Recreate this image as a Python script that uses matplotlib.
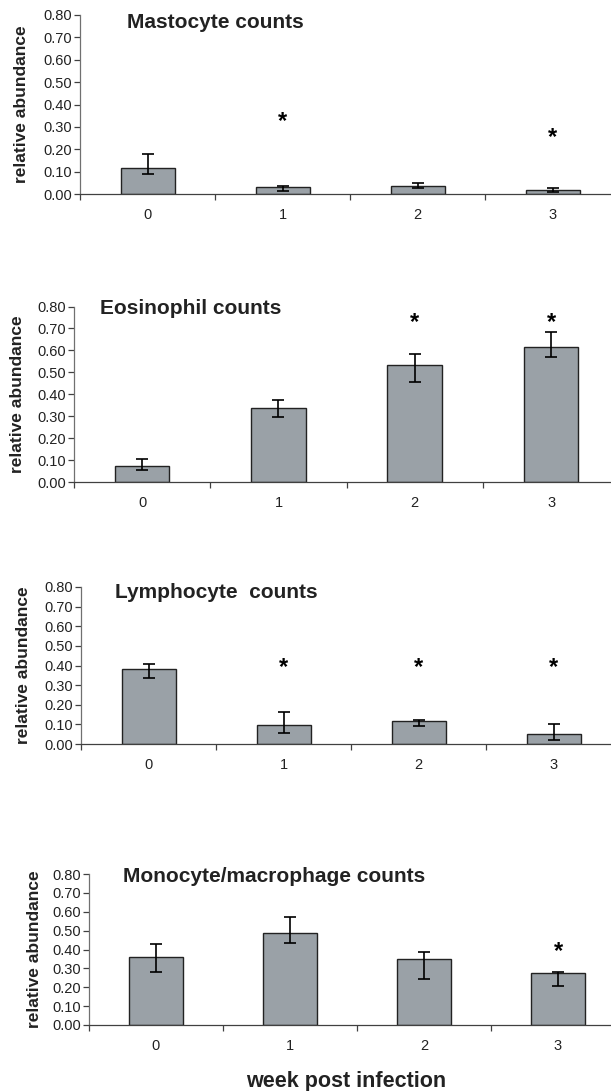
import numpy as np
import matplotlib
matplotlib.use("Agg")
import matplotlib.pyplot as plt

plt.rcParams['font.family'] = ['Liberation Sans', 'DejaVu Sans']

# ---- data ----
weeks = ['0', '1', '2', '3']

masto_mean = [0.115, 0.031, 0.037, 0.019]
masto_lo = [0.091, 0.015, 0.025, 0.009]
masto_hi = [0.181, 0.037, 0.049, 0.025]
masto_star = {1: 0.358, 3: 0.284}

eos_mean = [0.075, 0.336, 0.535, 0.616]
eos_lo = [0.055, 0.295, 0.454, 0.571]
eos_hi = [0.105, 0.376, 0.585, 0.685]
eos_star = {2: 0.76, 3: 0.76}

lymph_mean = [0.383, 0.097, 0.116, 0.049]
lymph_lo = [0.334, 0.054, 0.090, 0.020]
lymph_hi = [0.406, 0.165, 0.124, 0.102]
lymph_star = {1: 0.426, 2: 0.426, 3: 0.426}

mono_mean = [0.361, 0.485, 0.349, 0.274]
mono_lo = [0.281, 0.434, 0.244, 0.209]
mono_hi = [0.427, 0.570, 0.389, 0.281]
mono_star = {3: 0.428}

titles = ['Mastocyte counts', 'Eosinophil counts', 'Lymphocyte  counts',
          'Monocyte/macrophage counts']

W, H = 611, 1091
fig = plt.figure(figsize=(W / 100, H / 100), dpi=100)

BAR = '#9aa1a7'
SPINE = '#404040'

# panel geometry in pixels: axis x, y of 0.80, y of 0.00, category width,
# title anchor (x, y), y-label centre x
panels = [
    (80, 15, 194, 135, (127, 23), 22),
    (74, 306.5, 482, 136.3, (100, 309), 18),
    (81, 587, 744, 135, (115, 593), 24),
    (89, 874, 1025, 134, (123, 877), 35),
]

series = [
    (masto_mean, masto_lo, masto_hi, masto_star),
    (eos_mean, eos_lo, eos_hi, eos_star),
    (lymph_mean, lymph_lo, lymph_hi, lymph_star),
    (mono_mean, mono_lo, mono_hi, mono_star),
]

for (ax_x, top, bot, cw, tpos, ylx), (mean, lo, hi, stars), title in zip(panels, series, titles):
    ax = fig.add_axes([ax_x / W, 1 - bot / H, 4 * cw / W, (bot - top) / H])
    x = np.arange(len(weeks))
    mean = np.array(mean)
    yerr = [mean - np.array(lo), np.array(hi) - mean]
    ax.bar(x, mean, width=0.4, color=BAR, edgecolor='#222222', linewidth=1.0, zorder=2)
    ax.errorbar(x, mean, yerr=yerr, fmt='none', ecolor='black', elinewidth=1.2,
                capsize=4, capthick=1.2, zorder=3)
    for i, v in stars.items():
        ax.annotate('*', (i, v), xytext=(0, -0.58 * 17), textcoords='offset points',
                    ha='center', va='baseline', fontsize=17, fontweight='bold')

    ax.set_xlim(-0.5, 3.5)
    ax.set_ylim(0, 0.8)
    ax.set_yticks(np.arange(0, 0.81, 0.1))
    ax.set_yticklabels(['%.2f' % v for v in np.arange(0, 0.81, 0.1)])
    ax.set_xticks(x)
    ax.set_xticklabels(weeks)
    ax.set_xticks(np.arange(-0.5, 4, 1), minor=True)
    ax.tick_params(axis='x', which='major', length=0, pad=10, labelsize=10.5, colors='#222222')
    ax.tick_params(axis='x', which='minor', length=4, width=0.9, color=SPINE)
    ax.tick_params(axis='y', length=4, width=0.9, color=SPINE, pad=2, labelsize=10.5,
                   labelcolor='#222222')
    for s in ['top', 'right']:
        ax.spines[s].set_visible(False)
    for s in ['left', 'bottom']:
        ax.spines[s].set_color(SPINE)
        ax.spines[s].set_linewidth(0.9)
    ax.spines['left'].set_color('#707070')

    fig.text(tpos[0] / W, 1 - tpos[1] / H, title, ha='left', va='center',
             fontsize=15, fontweight='bold', color='#222222')
    fig.text(ylx / W, 1 - (top + bot) / 2 / H, 'relative abundance', rotation=90,
             ha='center', va='center', fontsize=12.5, fontweight='bold', color='#222222')

fig.text(346 / W, 1 - 1082 / H, 'week post infection', ha='center', va='center',
         fontsize=15.5, fontweight='bold', color='#222222')

fig.savefig('out.png', dpi=100, facecolor='white')
